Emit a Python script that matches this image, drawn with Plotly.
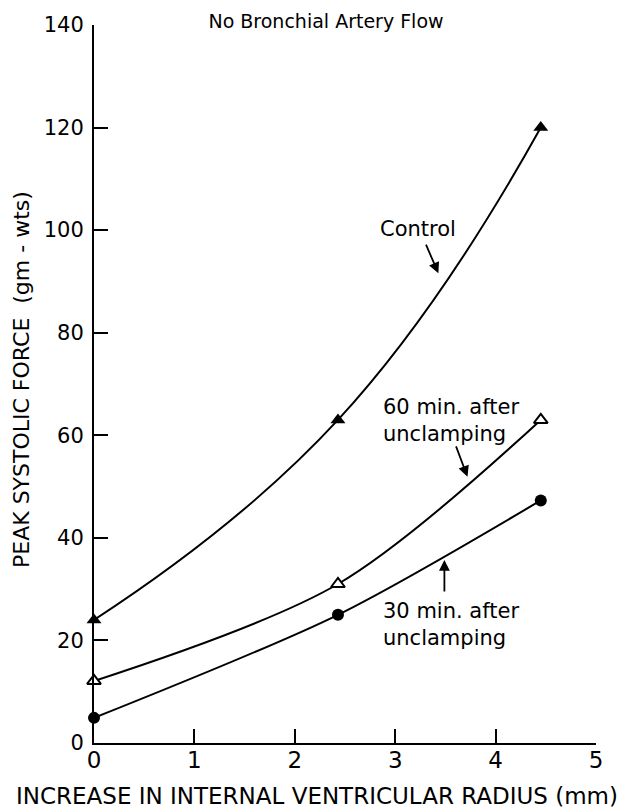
import plotly.graph_objects as go

# Data
radius = [0, 2.43, 4.45]
control = [24, 63, 120]
min60 = [12.1, 31, 63]
min30 = [4.9, 25, 47.3]

x_ticks = [0, 1, 2, 3, 4, 5]
y_ticks = [0, 20, 40, 60, 80, 100, 120, 140]

FONT = "DejaVu Sans"

fig = go.Figure()
fig.add_trace(go.Scatter(x=radius, y=control, mode="lines+markers",
                         line=dict(color="black", width=2, shape="spline", smoothing=1.3),
                         marker=dict(symbol="triangle-up", size=13, color="black"),
                         cliponaxis=False, name="Control"))
fig.add_trace(go.Scatter(x=radius, y=min60, mode="lines+markers",
                         line=dict(color="black", width=2, shape="spline", smoothing=0.9),
                         marker=dict(symbol="triangle-up", size=12, color="white",
                                     line=dict(color="black", width=2)),
                         cliponaxis=False, name="60 min"))
fig.add_trace(go.Scatter(x=radius, y=min30, mode="lines+markers",
                         line=dict(color="black", width=2, shape="spline", smoothing=0.8),
                         marker=dict(symbol="circle", size=12, color="black"),
                         cliponaxis=False, name="30 min"))

tf = dict(family=FONT, size=21, color="black")

# Text labels
fig.add_annotation(x=3.23, y=100.2, text="Control", showarrow=False, font=tf,
                   xanchor="center", yanchor="middle")
fig.add_annotation(x=2.86, y=62.8, text="60 min. after<br>unclamping", showarrow=False,
                   font=tf, xanchor="left", yanchor="middle", align="left")
fig.add_annotation(x=2.86, y=23.2, text="30 min. after<br>unclamping", showarrow=False,
                   font=tf, xanchor="left", yanchor="middle", align="left")

# Arrows
arrow = dict(showarrow=True, text="", arrowhead=2, arrowsize=1.2, arrowwidth=1.8,
             arrowcolor="black", axref="pixel", ayref="pixel")
fig.add_annotation(x=3.43, y=91.6, ax=-13, ay=-30, **arrow)
fig.add_annotation(x=3.72, y=51.9, ax=-12, ay=-32, **arrow)
fig.add_annotation(x=3.49, y=35.7, ax=0, ay=33, **arrow)

# Axis titles
fig.add_annotation(text="INCREASE IN INTERNAL VENTRICULAR RADIUS (mm)", xref="paper", yref="paper",
                   x=(309 - 86) / 502, y=-(788 - 735) / 718, xanchor="center", yanchor="middle",
                   showarrow=False, font=dict(family=FONT, size=23, color="black"))
fig.add_annotation(text="PEAK SYSTOLIC FORCE  (gm - wts)", xref="paper", yref="paper",
                   x=(13 - 86) / 502, y=1 - (372 - 17) / 718, xanchor="center", yanchor="middle",
                   textangle=-90, showarrow=False, font=dict(family=FONT, size=22, color="black"))

fig.update_layout(
    width=634, height=811,
    margin=dict(l=86, r=46, t=17, b=76),
    paper_bgcolor="white", plot_bgcolor="white",
    showlegend=False,
    font=dict(family=FONT, color="black"),
    title=dict(text="No Bronchial Artery Flow", x=318 / 634, y=1 - 13 / 811,
               xanchor="center", yanchor="middle", xref="container", yref="container",
               font=dict(family=FONT, size=19, color="black")),
)
fig.update_xaxes(range=[0, 5], tickvals=x_ticks, ticks="inside", ticklen=14, tickwidth=2,
                 tickcolor="black", showline=True, linecolor="black", linewidth=2,
                 showgrid=False, zeroline=False, tickfont=dict(family=FONT, size=23),
                 ticklabelstandoff=-5, automargin=False)
fig.update_yaxes(range=[0, 140], tickvals=y_ticks, ticks="inside", ticklen=14, tickwidth=2,
                 tickcolor="black", showline=True, linecolor="black", linewidth=2,
                 showgrid=False, zeroline=False, tickfont=dict(family=FONT, size=21),
                 ticklabelstandoff=4, automargin=False)

fig.write_html("out.html")
